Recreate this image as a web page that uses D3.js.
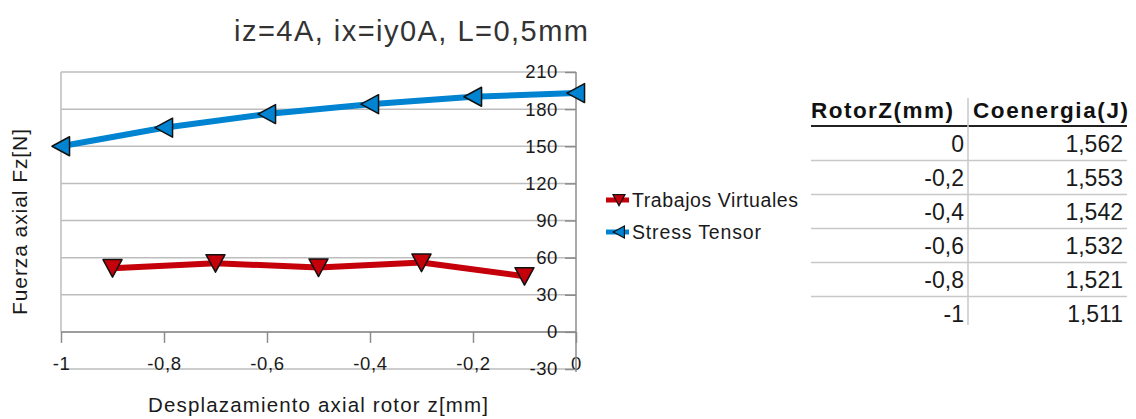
<!DOCTYPE html>
<html>
<head>
<meta charset="utf-8">
<script src="https://cdn.jsdelivr.net/npm/d3@7"></script>
<style>
  html, body { margin: 0; padding: 0; background: #fff; }
  svg { display: block; font-family: "Liberation Sans", Arial, sans-serif; }
</style>
</head>
<body>
<svg id="chart" width="1136" height="419"></svg>
<script>
// Series: axial force vs. rotor displacement
const virtualWorkX = [-0.9, -0.7, -0.5, -0.3, -0.1];
const virtualWorkFz = [51.5, 55.5, 52, 56, 45];
const stressTensorX = [-1, -0.8, -0.6, -0.4, -0.2, 0];
const stressTensorFz = [150, 165, 176, 184, 190, 193];

// Axis ticks
const xTicks = [-1, -0.8, -0.6, -0.4, -0.2, 0];
const yTicks = [-30, 0, 30, 60, 90, 120, 150, 180, 210];

// Side table: coenergy per rotor position
const tableHeader = ["RotorZ(mm)", "Coenergia(J)"];
const rotorZ = [0, -0.2, -0.4, -0.6, -0.8, -1];
const coenergy = [1.562, 1.553, 1.542, 1.532, 1.521, 1.511];

const seriesNames = ["Trabajos Virtuales", "Stress Tensor"];
const titleText = "iz=4A, ix=iy0A, L=0,5mm";
const xTitle = "Desplazamiento axial rotor z[mm]";
const yTitle = "Fuerza axial Fz[N]";

const RED = "#c5000b", BLUE = "#0084d1";
const GRID = "#bdbdbd", AXIS = "#8c8c8c", TEXT = "#1a1a1a";

const loc = d3.formatLocale({decimal: ",", thousands: ".", grouping: [3], currency: ["", ""], minus: "-"});
const fmtX = v => loc.format("~g")(+v.toFixed(2));
const fmtTable3 = loc.format(".3f");

const svg = d3.select("#chart");

const x = d3.scaleLinear().domain([-1, 0]).range([61, 576]);
const y = d3.scaleLinear().domain([-30, 210]).range([369, 72]);

// stretch text to a given width
function fit(sel, w) {
  sel.attr("textLength", w).attr("lengthAdjust", "spacing");
  return sel;
}

// Title
fit(svg.append("text")
  .attr("x", 411).attr("y", 41)
  .attr("text-anchor", "middle")
  .attr("font-size", 29).attr("fill", "#333")
  .text(titleText), 354);

// Gridlines
svg.append("g").selectAll("line").data(yTicks).join("line")
  .attr("x1", x(-1)).attr("x2", x(0))
  .attr("y1", d => y(d)).attr("y2", d => y(d))
  .attr("stroke", GRID).attr("stroke-width", 1.5);

// Left border of the plot wall
svg.append("line")
  .attr("x1", x(-1)).attr("x2", x(-1))
  .attr("y1", y(210)).attr("y2", y(0))
  .attr("stroke", GRID).attr("stroke-width", 1.5);

// X axis drawn along Fz = 0
const xAxis = svg.append("g")
  .attr("transform", `translate(0,${y(0)})`)
  .call(d3.axisBottom(x).tickValues(xTicks).tickSize(11).tickPadding(0).tickFormat(fmtX));
xAxis.select(".domain").attr("stroke", AXIS).attr("stroke-width", 1.5).attr("d", `M${x(-1)},0H${x(0)}`);
xAxis.selectAll(".tick line").attr("stroke", AXIS).attr("stroke-width", 1.5);
xAxis.selectAll(".tick text")
  .attr("y", y(-30) - y(0) + 1).attr("dy", "0.0em")
  .attr("font-size", 18.5).attr("fill", TEXT)
  .attr("font-family", "Liberation Sans, Arial, sans-serif")
  .style("letter-spacing", "0.6px");

// Y axis on the right edge (x = 0)
const yAxis = svg.append("g")
  .attr("transform", `translate(${x(0)},0)`)
  .call(d3.axisLeft(y).tickValues(yTicks).tickSize(11).tickPadding(7).tickFormat(loc.format("d")));
yAxis.select(".domain").attr("stroke", AXIS).attr("stroke-width", 1.5)
  .attr("d", `M0,${y(210)}V${y(-30) + 3}`);
yAxis.selectAll(".tick line").attr("stroke", AXIS).attr("stroke-width", 1.5);
yAxis.selectAll(".tick text")
  .attr("font-size", 18.5).attr("fill", TEXT)
  .attr("font-family", "Liberation Sans, Arial, sans-serif")
  .style("letter-spacing", "0.6px");

// Axis titles
fit(svg.append("text")
  .attr("x", 318).attr("y", 412)
  .attr("text-anchor", "middle")
  .attr("font-size", 20.5).attr("fill", TEXT)
  .text(xTitle), 340);

fit(svg.append("text")
  .attr("transform", `translate(27,222) rotate(-90)`)
  .attr("text-anchor", "middle")
  .attr("font-size", 21).attr("fill", TEXT)
  .text(yTitle), 186);

// Marker shapes
const downTri = s => `M${-s},${-s * 0.9}L${s},${-s * 0.9}L0,${s * 0.95}Z`;
const leftTri = s => `M${-s * 0.95},0L${s * 0.9},${-s}L${s * 0.9},${s}Z`;

const line = d3.line().x(d => x(d[0])).y(d => y(d[1]));

const redPts = virtualWorkX.map((v, i) => [v, virtualWorkFz[i]]);
const bluePts = stressTensorX.map((v, i) => [v, stressTensorFz[i]]);

svg.append("path").datum(redPts)
  .attr("d", line).attr("fill", "none")
  .attr("stroke", RED).attr("stroke-width", 6).attr("stroke-linejoin", "round");
svg.append("path").datum(bluePts)
  .attr("d", line).attr("fill", "none")
  .attr("stroke", BLUE).attr("stroke-width", 6).attr("stroke-linejoin", "round");

svg.append("g").selectAll("path").data(redPts).join("path")
  .attr("transform", d => `translate(${x(d[0])},${y(d[1])})`)
  .attr("d", downTri(9.5))
  .attr("fill", RED).attr("stroke", "#111").attr("stroke-width", 1.5).attr("stroke-linejoin", "round");
svg.append("g").selectAll("path").data(bluePts).join("path")
  .attr("transform", d => `translate(${x(d[0])},${y(d[1])})`)
  .attr("d", leftTri(9.5))
  .attr("fill", BLUE).attr("stroke", "#111").attr("stroke-width", 1.5).attr("stroke-linejoin", "round");

// Legend
const legend = svg.append("g");
const legendItems = [
  {name: seriesNames[0], color: RED, shape: downTri, y: 200, w: 166},
  {name: seriesNames[1], color: BLUE, shape: leftTri, y: 232, w: 129}
];
legendItems.forEach(it => {
  legend.append("line")
    .attr("x1", 606).attr("x2", 629).attr("y1", it.y).attr("y2", it.y)
    .attr("stroke", it.color).attr("stroke-width", 5);
  legend.append("path")
    .attr("transform", `translate(619,${it.y})`)
    .attr("d", it.shape(6))
    .attr("fill", it.color).attr("stroke", "#111").attr("stroke-width", 1.2);
  fit(legend.append("text")
    .attr("x", 632).attr("y", it.y + 7)
    .attr("font-size", 19.5).attr("fill", TEXT)
    .text(it.name), it.w);
});

// Table
const tbl = svg.append("g");
const colRight = [964, 1123];
const colLeft = [811, 973];
const headerW = [142, 155];
tableHeader.forEach((h, i) => {
  fit(tbl.append("text")
    .attr("x", colLeft[i]).attr("y", 118)
    .attr("font-size", 22.5).attr("font-weight", "bold").attr("fill", "#111")
    .text(h), headerW[i]);
});
tbl.append("line").attr("x1", 811).attr("x2", 1127).attr("y1", 126).attr("y2", 126)
  .attr("stroke", "#222").attr("stroke-width", 2);
tbl.append("line").attr("x1", 968).attr("x2", 968).attr("y1", 98).attr("y2", 325)
  .attr("stroke", "#c8c8c8").attr("stroke-width", 1.5);

rotorZ.forEach((z, i) => {
  const cy = 143.5 + i * 34;
  tbl.append("text")
    .attr("x", colRight[0]).attr("y", cy + 8)
    .attr("text-anchor", "end").attr("font-size", 23).attr("fill", TEXT)
    .text(fmtX(z));
  tbl.append("text")
    .attr("x", colRight[1]).attr("y", cy + 8)
    .attr("text-anchor", "end").attr("font-size", 23).attr("fill", TEXT)
    .text(fmtTable3(coenergy[i]));
  if (i < rotorZ.length - 1) {
    tbl.append("line").attr("x1", 811).attr("x2", 1127)
      .attr("y1", cy + 17).attr("y2", cy + 17)
      .attr("stroke", "#c8c8c8").attr("stroke-width", 1.5);
  }
});
</script>
</body>
</html>
